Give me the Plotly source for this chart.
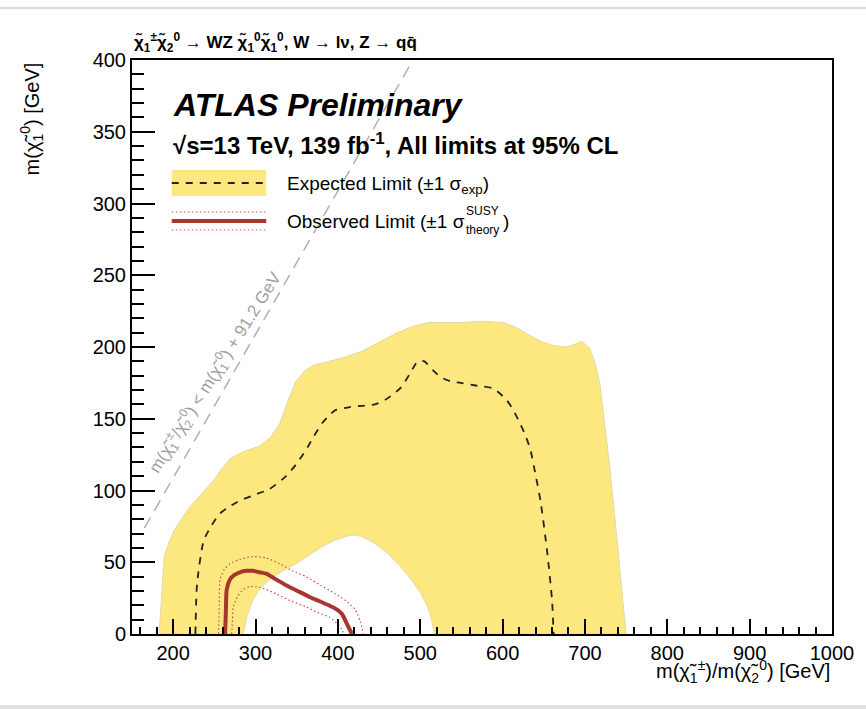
import plotly.graph_objects as go

# Expected limit +-1 sigma band: outer and inner (hole) contours, in GeV
band_outer_x = [183, 186, 189, 195, 201, 211, 221, 235, 249, 259, 269, 285, 305, 318, 329, 339, 349, 359, 369,
                389, 409, 429, 449, 469, 489, 509, 529, 549, 575, 601, 615, 630, 646, 662, 678, 688, 696,
                706, 712, 718, 724, 730, 736, 742, 746, 750]
band_outer_y = [0, 30, 54, 64, 72, 81, 89, 98, 107, 115, 122, 127, 131, 137, 146, 162, 176, 183, 187,
                190, 193, 197, 203, 209, 214, 217, 217, 217, 218, 217, 214, 209, 204, 201, 200, 202, 204,
                199, 189, 175, 148, 117, 83, 47, 22, 0]
band_inner_x = [285, 290, 297, 306, 317, 333, 349, 365, 381, 395, 409, 419, 429, 445, 461, 476, 489, 500, 509, 514, 517]
band_inner_y = [0, 13, 24, 32, 38, 44, 49, 55, 61, 65, 68, 69, 68, 63, 56, 47, 38, 29, 19, 10, 0]

# Expected limit (median)
exp_x = [227, 229, 237, 247, 257, 269, 281, 299, 317, 337, 349, 361, 371, 381, 389, 397, 413, 429, 445, 457,
         467, 477, 487, 497, 505, 515, 525, 537, 549, 569, 589, 605, 613, 621, 628, 634, 640, 646, 654, 660, 662]
exp_y = [0, 35, 65, 76, 84, 89, 93, 97, 101, 110, 118, 128, 138, 147, 152, 156, 158, 159, 160, 163,
         167, 172, 181, 190, 190, 184, 179, 176, 175, 173, 171, 163, 156, 147, 138, 128, 111, 93, 58, 24, 0]

# Observed limit and its +-1 sigma(theory) variations
obs_x = [263, 264, 265, 269, 274, 281, 289, 297, 305, 313, 325, 337, 351, 365, 377, 389, 399, 405, 411, 417]
obs_y = [0, 16, 31, 38, 41, 43, 44, 44, 43, 42, 38, 34, 30, 26, 23, 20, 17, 14, 7, 0]
obs_up_x = [255, 256, 257, 262, 269, 281, 297, 313, 329, 345, 361, 379, 397, 410, 421, 427, 431]
obs_up_y = [0, 20, 38, 45, 49, 52, 54, 53, 49, 44, 40, 34, 28, 23, 17, 9, 0]
obs_dn_x = [271, 272, 273, 278, 285, 293, 301, 313, 325, 343, 361, 375, 389, 398, 405, 407]
obs_dn_y = [0, 10, 19, 26, 31, 33, 33, 31, 28, 23, 19, 15, 12, 8, 3, 0]

# Kinematic boundary m(chi1+-) = m(chi10) + m(Z)
m_z = 91.2
kin_x = [165, 400 + m_z]
kin_y = [x - m_z for x in kin_x]

x_range = [150, 1000]
y_range = [0, 400]

FONT = "Liberation Sans, Arial, Helvetica, sans-serif"
YELLOW = "#fde880"
OBS_RED = "#a8352f"
DOT_RED = "#c8504a"

fig = go.Figure()

# Band polygon: outer contour, along y=0 to the hole, inner contour back
poly_x = band_outer_x + band_inner_x[::-1] + [band_outer_x[0]]
poly_y = band_outer_y + band_inner_y[::-1] + [band_outer_y[0]]
fig.add_trace(go.Scatter(x=poly_x, y=poly_y, mode="lines", fill="toself",
                         fillcolor=YELLOW, line=dict(color="#e2d9a6", width=1),
                         hoverinfo="skip", showlegend=False))

fig.add_trace(go.Scatter(x=exp_x, y=exp_y, mode="lines",
                         line=dict(color="#222222", width=1.8, dash="7px,7px", shape="spline", smoothing=0.6),
                         showlegend=False))

fig.add_trace(go.Scatter(x=obs_up_x, y=obs_up_y, mode="lines",
                         line=dict(color=DOT_RED, width=1.2, dash="1.5px,2.5px", shape="spline", smoothing=0.6),
                         showlegend=False))
fig.add_trace(go.Scatter(x=obs_dn_x, y=obs_dn_y, mode="lines",
                         line=dict(color=DOT_RED, width=1.2, dash="1.5px,2.5px", shape="spline", smoothing=0.6),
                         showlegend=False))
fig.add_trace(go.Scatter(x=obs_x, y=obs_y, mode="lines",
                         line=dict(color=OBS_RED, width=4, shape="spline", smoothing=0.6),
                         showlegend=False))

fig.add_trace(go.Scatter(x=kin_x, y=kin_y, mode="lines",
                         line=dict(color="#b0b0b0", width=1.5, dash="12px,8px"),
                         showlegend=False))

chi = "χ\u0303"
annotations = [
    dict(text=f"<b>{chi}<sub>1</sub><sup>±</sup>{chi}<sub>2</sub><sup>0</sup> → WZ "
              f"{chi}<sub>1</sub><sup>0</sup>{chi}<sub>1</sub><sup>0</sup>, W → lν, Z → qq\u0304</b>",
         xref="paper", yref="paper", x=0.0, y=1.031, xanchor="left", yanchor="middle",
         showarrow=False, font=dict(size=17, color="black")),
    dict(text="<b><i>ATLAS Preliminary</i></b>",
         xref="paper", yref="paper", x=0.056, y=0.921, xanchor="left", yanchor="middle",
         showarrow=False, font=dict(size=32, color="black")),
    dict(text="<b>√s=13 TeV, 139 fb<sup>-1</sup>, All limits at 95% CL</b>",
         xref="paper", yref="paper", x=0.056, y=0.853, xanchor="left", yanchor="middle",
         showarrow=False, font=dict(size=24, color="black")),
    dict(text="Expected Limit (±1 σ<sub>exp</sub>)",
         xref="paper", yref="paper", x=0.219, y=0.783, xanchor="left", yanchor="middle",
         showarrow=False, font=dict(size=19, color="black")),
    dict(text="Observed Limit (±1 σ",
         xref="paper", yref="paper", x=0.219, y=0.718, xanchor="left", yanchor="middle",
         showarrow=False, font=dict(size=19, color="black")),
    dict(text="SUSY",
         xref="paper", yref="paper", x=0.474, y=0.737, xanchor="left", yanchor="middle",
         showarrow=False, font=dict(size=12, color="black")),
    dict(text="theory",
         xref="paper", yref="paper", x=0.474, y=0.703, xanchor="left", yanchor="middle",
         showarrow=False, font=dict(size=12, color="black")),
    dict(text=")",
         xref="paper", yref="paper", x=0.527, y=0.718, xanchor="left", yanchor="middle",
         showarrow=False, font=dict(size=19, color="black")),
    dict(text=f"m({chi}<sub>1</sub><sup>±</sup>/{chi}<sub>2</sub><sup>0</sup>) < m({chi}<sub>1</sub><sup>0</sup>) + 91.2 GeV",
         xref="x", yref="y", x=251, y=182, xanchor="center", yanchor="middle", textangle=-58,
         showarrow=False, font=dict(size=17, color="#a0a0a0")),
    dict(text=f"m({chi}<sub>1</sub><sup>±</sup>)/m({chi}<sub>2</sub><sup>0</sup>) [GeV]",
         xref="paper", yref="paper", x=1.0, y=-0.066, xanchor="right", yanchor="middle",
         showarrow=False, font=dict(size=20, color="black")),
    dict(text=f"m({chi}<sub>1</sub><sup>0</sup>) [GeV]",
         xref="paper", yref="paper", x=-0.143, y=1.0, xanchor="center", yanchor="top", textangle=-90,
         showarrow=False, font=dict(size=20, color="black")),
]

shapes = [
    # legend swatches
    dict(type="rect", xref="paper", yref="paper", x0=0.0568, x1=0.1918, y0=0.763, y1=0.8084,
         fillcolor=YELLOW, line=dict(width=0)),
    dict(type="line", xref="paper", yref="paper", x0=0.0568, x1=0.1918, y0=0.7857, y1=0.7857,
         line=dict(color="#222222", width=1.8, dash="7px,7px")),
    dict(type="line", xref="paper", yref="paper", x0=0.0568, x1=0.1918, y0=0.7352, y1=0.7352,
         line=dict(color=DOT_RED, width=1.2, dash="1.5px,2.5px")),
    dict(type="line", xref="paper", yref="paper", x0=0.0568, x1=0.1918, y0=0.7195, y1=0.7195,
         line=dict(color=OBS_RED, width=4)),
    dict(type="line", xref="paper", yref="paper", x0=0.0568, x1=0.1918, y0=0.7038, y1=0.7038,
         line=dict(color=DOT_RED, width=1.2, dash="1.5px,2.5px")),
    # page rules above and below the canvas
    dict(type="line", xref="paper", yref="paper", x0=-0.2, x1=1.1, y0=1.0906, y1=1.0906,
         line=dict(color="#dcdcdc", width=2.5)),
    dict(type="rect", xref="paper", yref="paper", x0=-0.2, x1=1.1, y0=-0.1237, y1=-0.14,
         fillcolor="#e0e0e0", line=dict(width=0)),
]

axis_common = dict(
    showgrid=False, zeroline=False, showline=True, linecolor="black", linewidth=2, mirror=True,
    ticks="inside", tickcolor="black", tickwidth=1.5,
    tickfont=dict(size=20, color="black", family=FONT),
)

fig.update_layout(
    width=866, height=709,
    margin=dict(l=132, r=30, t=60, b=75),
    paper_bgcolor="white", plot_bgcolor="white",
    font=dict(family=FONT, color="black"),
    xaxis=dict(range=x_range, tickmode="linear", tick0=200, dtick=100, ticklen=15,
               minor=dict(ticks="inside", ticklen=7, dtick=20, tick0=0, tickcolor="black", tickwidth=1.5),
               **axis_common),
    yaxis=dict(range=y_range, tickmode="linear", tick0=0, dtick=50, ticklen=23,
               minor=dict(ticks="inside", ticklen=12, dtick=10, tick0=0, tickcolor="black", tickwidth=1.5),
               **axis_common),
    annotations=annotations,
    shapes=shapes,
    showlegend=False,
)

fig.write_html("out.html")
